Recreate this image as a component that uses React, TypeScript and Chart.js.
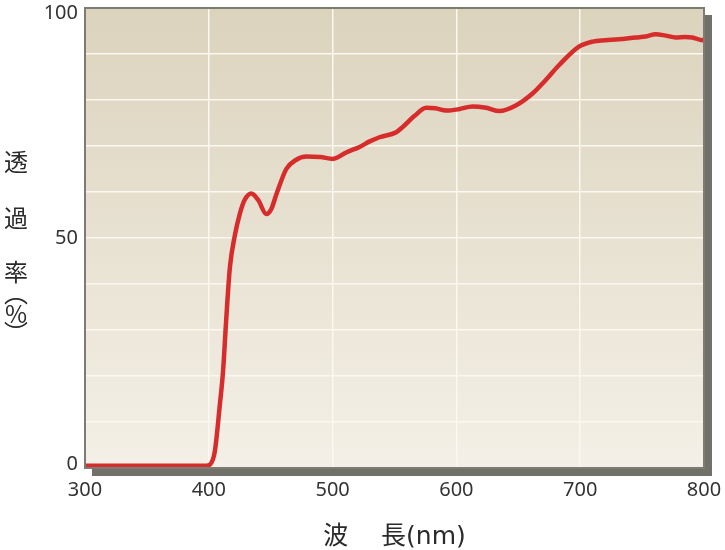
import React, { useEffect, useRef } from "react";
import { Chart, registerables } from "chart.js";

Chart.register(...registerables);

// wavelength (nm) and transmittance (%)
const wavelengths = [
  300, 350, 398, 400.8, 404.8, 408.9, 411.5, 414, 417, 421, 425, 429, 434.4, 440,
  446.5, 450.5, 454.6, 462.6, 470, 478.8, 490, 500.3, 511, 521.8, 530, 537.9,
  551.4, 556.5, 566, 575.6, 583, 591.7, 602, 613, 624, 634.7, 648, 661.5, 672,
  683, 699, 710, 720, 731, 745, 753, 761, 769, 777, 785, 790.5, 799, 800,
];
const transmittance = [
  0.5, 0.5, 0.5, 0.7, 3.5, 13.7, 21, 32, 43.5, 50.5, 55.2, 58.3, 59.7, 58.2,
  55.2, 56.3, 59.5, 65, 66.9, 67.7, 67.6, 67.2, 68.6, 69.8, 71, 71.9, 73, 74.1,
  76.5, 78.3, 78.2, 77.7, 78, 78.6, 78.3, 77.6, 78.8, 81.4, 84.3, 87.6, 91.6,
  92.7, 93, 93.2, 93.6, 93.8, 94.3, 94, 93.6, 93.7, 93.6, 93.0, 93.2,
];
const labeledTicks = [0, 50, 100];
const yTitleChars = ["透", "過", "率", "︵", "%", "︶"];
const xTitle = "波　 長(nm)";

const panelPlugin = {
  id: "panel",
  beforeDraw(chart: any) {
    const { ctx, chartArea: a } = chart;
    const w = a.right - a.left;
    const h = a.bottom - a.top;
    ctx.save();
    ctx.fillStyle = "#717169";
    ctx.fillRect(a.left + 7, a.top + 7, w + 1, h + 1);
    const g = ctx.createLinearGradient(0, a.top, 0, a.bottom);
    g.addColorStop(0, "#dcd3bd");
    g.addColorStop(1, "#f4f0e7");
    ctx.fillStyle = g;
    ctx.fillRect(a.left, a.top, w, h);
    ctx.restore();
  },
  afterDraw(chart: any) {
    const { ctx, chartArea: a, scales } = chart;
    ctx.save();
    ctx.strokeStyle = "#7d7c74";
    ctx.lineWidth = 2;
    ctx.strokeRect(a.left, a.top, a.right - a.left, a.bottom - a.top);
    // y tick labels: top one hangs below its line, bottom one sits above
    ctx.fillStyle = "#333";
    ctx.textAlign = "right";
    ctx.font = "20px 'Noto Sans'";
    labeledTicks.forEach((v, i) => {
      const y = scales.y.getPixelForValue(v);
      ctx.textBaseline = i === 0 ? "bottom" : i === labeledTicks.length - 1 ? "top" : "middle";
      const dy = i === 0 ? 6 : i === labeledTicks.length - 1 ? -5 : 0;
      ctx.fillText(String(v), a.left - 7, y + dy);
    });
    // vertical y-axis title
    ctx.fillStyle = "#2a2a2a";
    ctx.textAlign = "center";
    ctx.textBaseline = "middle";
    ctx.font = "24px 'Noto Sans CJK JP'";
    const ys = [162, 218, 272, 293, 314, 333];
    yTitleChars.forEach((c, i) => ctx.fillText(c, 16, ys[i]));
    ctx.restore();
  },
};

const App: React.FC = () => {
  const canvasRef = useRef<HTMLCanvasElement | null>(null);

  useEffect(() => {
    if (!canvasRef.current) return;
    const chart = new Chart(canvasRef.current, {
      type: "line",
      data: {
        labels: wavelengths,
        datasets: [
          {
            data: wavelengths.map((x, i) => ({ x, y: transmittance[i] })),
            borderColor: "#d62d2c",
            borderWidth: 4.5,
            pointRadius: 0,
            tension: 0.4,
            cubicInterpolationMode: "monotone",
            clip: 4,
          },
        ],
      },
      options: {
        responsive: false,
        animation: false,
        layout: { padding: { left: 0, top: 8, right: 21, bottom: -2 } },
        plugins: { legend: { display: false }, tooltip: { enabled: false } },
        scales: {
          x: {
            type: "linear",
            min: 300,
            max: 800,
            border: { display: false },
            afterFit: (s: any) => {
              s.paddingLeft = 0;
              s.paddingRight = 0;
            },
            grid: { color: "#fbf8ef", lineWidth: 1.5, drawTicks: false },
            ticks: {
              stepSize: 100,
              padding: 10,
              color: "#333",
              font: { family: "'Noto Sans'", size: 20 },
            },
            title: {
              display: true,
              text: xTitle,
              color: "#2a2a2a",
              font: { family: "'DejaVu Sans', 'Noto Sans CJK JP'", size: 25 },
              padding: { top: 10, bottom: 0 },
            },
          },
          y: {
            min: 0,
            max: 100,
            border: { display: false },
            afterFit: (s: any) => {
              s.width = 85;
            },
            grid: { color: "#fbf8ef", lineWidth: 1.5, drawTicks: false },
            ticks: { stepSize: 10, display: false },
          },
        },
      },
      plugins: [panelPlugin],
    });
    return () => chart.destroy();
  }, []);

  return (
    <div style={{ position: "absolute", left: 0, top: 0, width: 725, height: 550 }}>
      <canvas ref={canvasRef} width={725} height={550} />
    </div>
  );
};

export default App;
